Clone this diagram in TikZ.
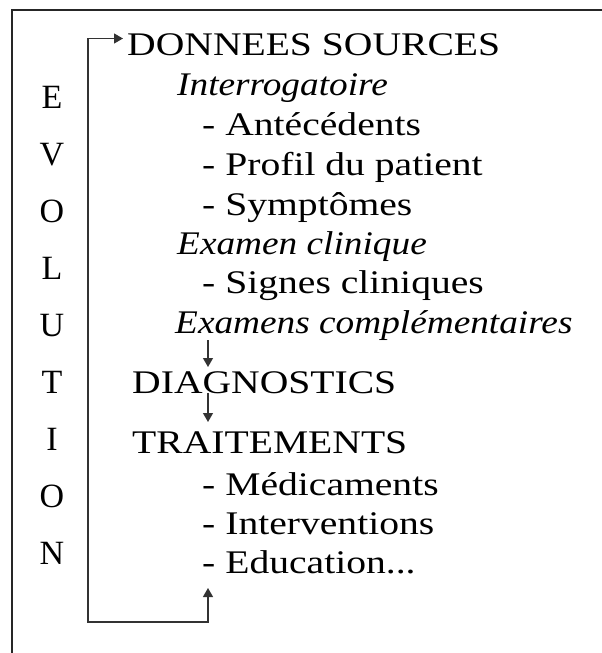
\documentclass[tikz,border=0pt]{standalone}
\usepackage{fontspec}
\setmainfont{Liberation Serif}
\usetikzlibrary{arrows.meta}
\begin{document}
\begin{tikzpicture}[x=1pt,y=-1pt,
  txt/.style={inner sep=0pt,anchor=base west,font=\fontsize{33}{40}\selectfont,xscale=1.2},
  itx/.style={inner sep=0pt,anchor=base west,font=\fontsize{33}{40}\selectfont\itshape,xscale=1.13},
  letter/.style={inner sep=0pt,anchor=base,font=\fontsize{34}{40}\selectfont},
  frame/.style={line width=2.6pt,black!85},
  conn/.style={line width=1.3pt,black!80},
  tip/.style={-{Triangle[width=10pt,length=9pt]}}
]
\useasboundingbox (0,0) rectangle (602,653);
\draw[frame] (12,653) -- (12,10) -- (602,10);
% EVOLUTION
\foreach \l [count=\i from 0] in {E,V,O,L,U,T,I,O,N}
  \node[letter] (ev\i) at (52,108+57*\i) {\l};
% text lines
\node[txt] (don) at (127,55) {DONNEES SOURCES};
\node[itx] (int) at (177,95) {Interrogatoire};
\node[txt] (ant) at (202,135) {- Antécédents};
\node[txt] (pro) at (202,175) {- Profil du patient};
\node[txt] (sym) at (202,215) {- Symptômes};
\node[itx] (exa) at (177,254) {Examen clinique};
\node[txt] (sig) at (202,293) {- Signes cliniques};
\node[itx] (exc) at (175,333) {Examens complémentaires};
\node[txt] (dia) at (132,393) {DIAGNOSTICS};
\node[txt] (tra) at (132,453) {TRAITEMENTS};
\node[txt] (med) at (202,495) {- Médicaments};
\node[txt] (itv) at (202,534) {- Interventions};
\node[txt] (edu) at (202,573) {- Education...};
% connectors
\coordinate (a1s) at (208,340);
\coordinate (a1e) at (208,367);
\coordinate (a2s) at (208,393);
\coordinate (a2e) at (208,422);
\coordinate (lb) at (208,588);
\coordinate (lt) at (123,38.5);
\draw[conn,tip] (a1s) -- (a1e);
\draw[conn,tip] (a2s) -- (a2e);
\draw[conn,{Triangle[width=10pt,length=9pt]}-{Triangle[width=10pt,length=9pt]}]
  (lb) -- (208,622) -- (88,622) -- (88,38.5) -- (lt);
\end{tikzpicture}
\end{document}
